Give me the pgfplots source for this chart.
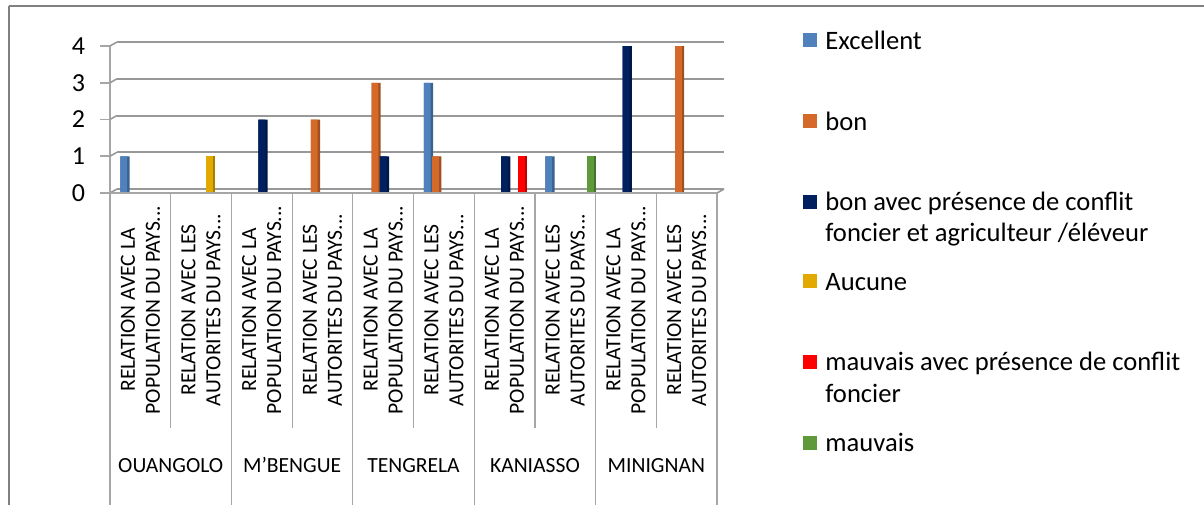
\documentclass[border=0pt]{standalone}
\usepackage{fontspec}
\setmainfont{Carlito}
\usepackage{pgfplots}
\usepackage{pgfplotstable}
\pgfplotsset{compat=1.18}

\definecolor{cExc}{HTML}{4F81BD}
\definecolor{cBon}{HTML}{D4692A}
\definecolor{cBonC}{HTML}{002060}
\definecolor{cAuc}{HTML}{E2AA00}
\definecolor{cMauC}{HTML}{FF0000}
\definecolor{cMau}{HTML}{5E9A3A}
\definecolor{gridc}{HTML}{989898}
\definecolor{linec}{HTML}{A6A6A6}

% categories 0..9: (OUANGOLO pop, aut), (M'BENGUE pop, aut), (TENGRELA ...), (KANIASSO ...), (MINIGNAN ...)
\pgfplotstableread{
x y
0 1
5 3
7 1
}\excellent
\pgfplotstableread{
x y
3 2
4 3
5 1
9 4
}\bon
\pgfplotstableread{
x y
2 2
4 1
6 1
8 4
}\bonconflit
\pgfplotstableread{
x y
1 1
}\aucune
\pgfplotstableread{
x y
6 1
}\mauvaisconflit
\pgfplotstableread{
x y
7 1
}\mauvais

% 3D-like column: darker side face behind, front face on top
\pgfplotsset{
  side/.style 2 args={ybar, bar width=4.6pt, bar shift=#1, draw=none, fill=#2!75!black, forget plot},
  front/.style 2 args={ybar, bar width=3.4pt, bar shift=#1, draw=none, fill=#2},
}

\begin{document}
\begin{tikzpicture}[x=0.5pt,y=-0.5pt]
\path[use as bounding box] (0,0) rectangle (1204,504);
\draw[gray, line width=0.8pt] (9,6) -- (1220,6) (9,6) -- (9,520);
\coordinate (O) at (110,193);

\begin{axis}[
  at={(O)}, anchor=south west,
  scale only axis, width=303.5pt, height=73.5pt,
  xmin=-0.5, xmax=9.5, ymin=0, ymax=4,
  clip=false,
  axis lines*=left,
  x axis line style={draw=none},
  y axis line style={linec, line width=0.8pt},
  xtick=\empty, ytick={0,1,2,3,4},
  ytick align=outside, major tick length=5pt,
  tick style={linec, line width=0.8pt},
  yticklabel style={font=\fontsize{13}{15}\selectfont, xshift=-4pt},
  /pgf/number format/assume math mode=true,
]
% back wall gridlines (3D look)
\pgfplotsinvokeforeach{0,1,2,3,4}{
  \draw[gridc, line width=1pt] ([shift={(3.5pt,2pt)}]axis cs:-0.5,#1) -- ([shift={(3.5pt,2pt)}]axis cs:9.5,#1);
  \draw[gridc, line width=0.8pt] (axis cs:-0.5,#1) -- ([shift={(3.5pt,2pt)}]axis cs:-0.5,#1);
}
\draw[gridc, line width=0.8pt] (axis cs:9.5,0) -- ([shift={(3.5pt,2pt)}]axis cs:9.5,0);

\addplot[side={-7.675pt}{cExc}] table {\excellent};
\addplot[front={-8.275pt}{cExc}] table {\excellent};
\addplot[side={-3.525pt}{cBon}] table {\bon};
\addplot[front={-4.125pt}{cBon}] table {\bon};
\addplot[side={0.625pt}{cBonC}] table {\bonconflit};
\addplot[front={0.025pt}{cBonC}] table {\bonconflit};
\addplot[side={4.775pt}{cAuc}] table {\aucune};
\addplot[front={4.175pt}{cAuc}] table {\aucune};
\addplot[side={8.925pt}{cMauC}] table {\mauvaisconflit};
\addplot[front={8.325pt}{cMauC}] table {\mauvaisconflit};
\addplot[side={13.075pt}{cMau}] table {\mauvais};
\addplot[front={12.475pt}{cMau}] table {\mauvais};
\end{axis}

% category axis
\draw[linec, line width=0.6pt] (110,193) -- (717,193);
\foreach \k in {0,...,10}{
  \pgfmathsetmacro{\xx}{110+60.7*\k}
  \ifodd\k
    \draw[linec, line width=0.6pt] (\xx,193) -- (\xx,428);
  \else
    \draw[linec, line width=0.6pt] (\xx,193) -- (\xx,520);
  \fi
}
\foreach \k in {0,2,4,6,8}{
  \node[rotate=90, align=center, inner sep=0, font=\fontsize{10.8}{12.5}\selectfont]
    at ({110+60.7*\k+30.35},310) {RELATION AVEC LA\\POPULATION DU PAYS...};
}
\foreach \k in {1,3,5,7,9}{
  \node[rotate=90, align=center, inner sep=0, font=\fontsize{10.8}{12.5}\selectfont]
    at ({110+60.7*\k+30.35},310) {RELATION AVEC LES\\AUTORITES DU PAYS...};
}
\foreach \k/\g in {0/OUANGOLO, 1/M'BENGUE, 2/TENGRELA, 3/KANIASSO, 4/MINIGNAN}{
  \node[anchor=base, inner sep=0, font=\fontsize{10.8}{12.5}\selectfont]
    at ({110+121.4*\k+60.7},472) {\g};
}

% legend
\tikzset{legtxt/.style={anchor=base west, inner sep=0, font=\fontsize{13.3}{15.5}\selectfont}}
\foreach \b/\c/\t in {49.3/cExc/Excellent, 130/cBon/bon, 210.7/cBonC/bon avec présence de conflit,
    290/cAuc/Aucune, 370.7/cMauC/mauvais avec présence de conflit, 451.7/cMau/mauvais}{
  \fill[\c] (803,\b-16) rectangle (817,\b-2);
  \node[legtxt] at (825,\b) {\t};
}
\node[legtxt] at (825,241.7) {foncier et agriculteur /éléveur};
\node[legtxt] at (825,402) {foncier};
\end{tikzpicture}
\end{document}
